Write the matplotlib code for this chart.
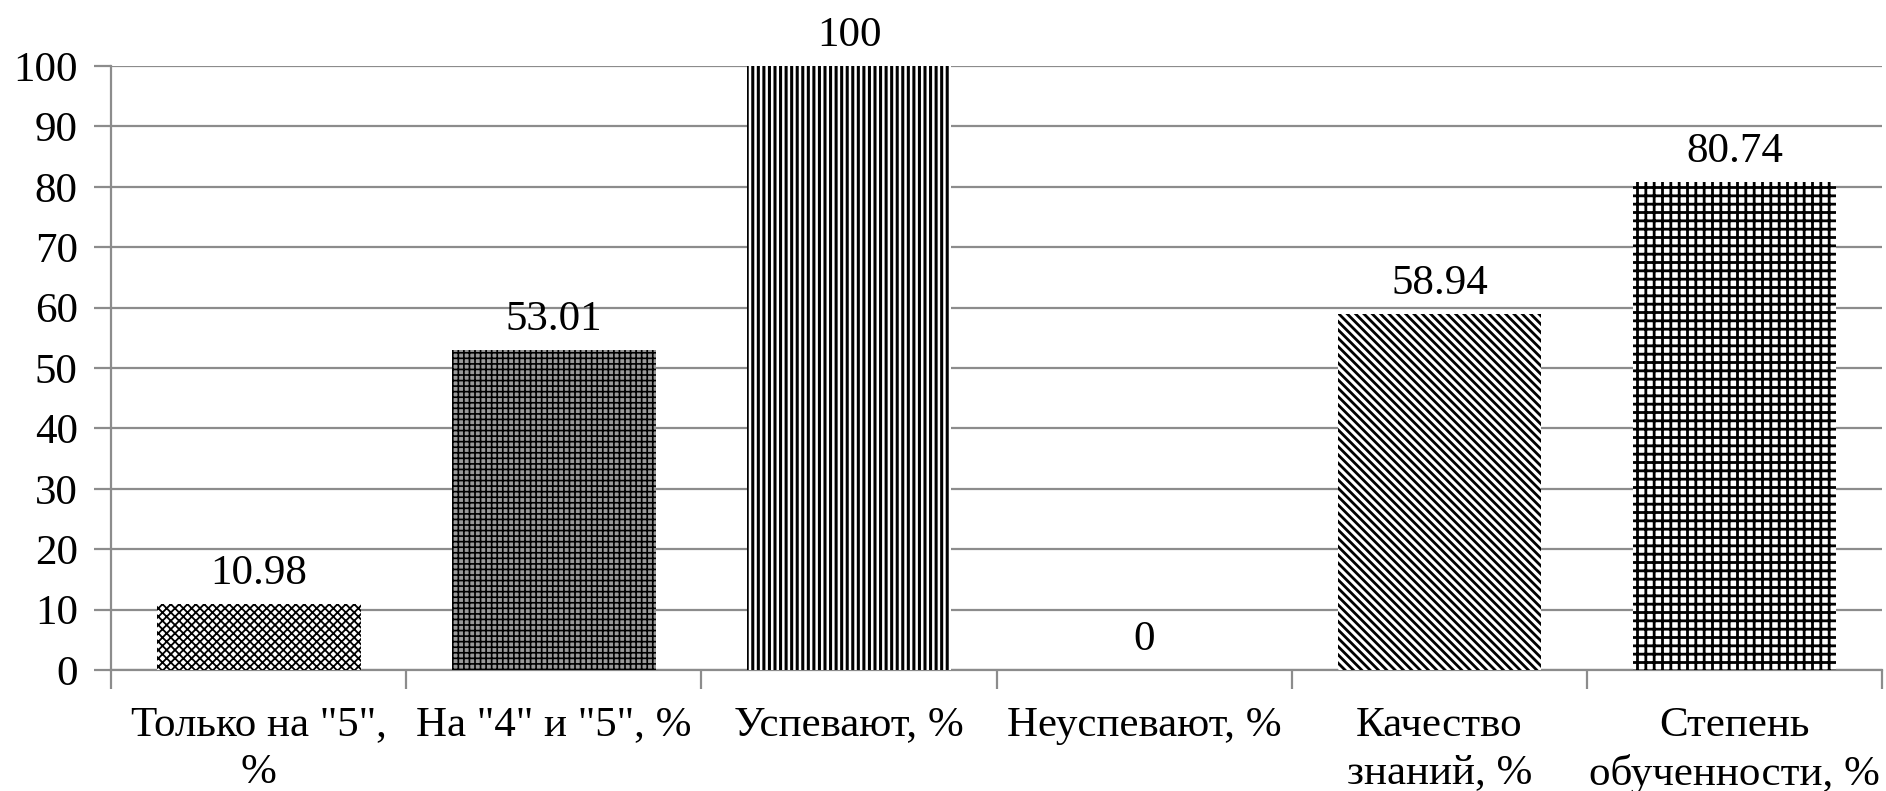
"""Bar chart of student performance indicators (hatched, monochrome)."""

import matplotlib

matplotlib.use("Agg")
import matplotlib.pyplot as plt
from matplotlib.ticker import FixedLocator, MultipleLocator

categories = [
    'Только на "5",\n%',
    'На "4" и "5", %',
    "Успевают, %",
    "Неуспевают, %",
    "Качество\nзнаний, %",
    "Степень\nобученности, %",
]
values = [10.98, 53.01, 100, 0, 58.94, 80.74]
value_labels = ["10.98", "53.01", "100", "0", "58.94", "80.74"]

hatches = ["xxxx", "+++", "|||", "", "\\\\\\\\", "++"]
faces = ["white", "#9a9a9a", "white", "white", "white", "white"]
hatch_widths = [1.3, 1.2, 2.2, 1.0, 2.0, 2.0]

plt.rcParams["font.family"] = ["Liberation Serif", "DejaVu Serif"]
plt.rcParams["font.size"] = 31

fig = plt.figure(figsize=(18.86, 7.91), dpi=100)
ax = fig.add_axes([0.0589, 0.153, 0.9391, 0.7636])

x = list(range(len(categories)))
for i, (v, h, fc, hw) in enumerate(zip(values, hatches, faces, hatch_widths)):
    with plt.rc_context({"hatch.linewidth": hw}):
        b = ax.bar(i, v, width=0.69, color=fc, edgecolor="black", linewidth=0, hatch=h, zorder=3)
    ax.bar_label(b, labels=[value_labels[i]], padding=8, fontsize=31)

ax.set_xlim(-0.5, len(categories) - 0.5)
ax.set_ylim(0, 100)
ax.yaxis.set_major_locator(MultipleLocator(10))
ax.grid(axis="y", color="#8c8c8c", linewidth=1.6, zorder=0)
ax.set_axisbelow(True)

ax.set_xticks(x)
ax.set_xticklabels(categories, linespacing=1.3, va="top")
ax.tick_params(axis="x", which="major", length=0, pad=26)
ax.xaxis.set_minor_locator(FixedLocator([i - 0.5 for i in range(len(categories) + 1)]))
ax.tick_params(axis="x", which="minor", length=14, width=1.6, color="#8c8c8c", direction="out")
ax.tick_params(axis="y", length=12, width=1.6, color="#8c8c8c", direction="out", pad=12)

for side in ["top", "right"]:
    ax.spines[side].set_visible(False)
for side in ["left", "bottom"]:
    ax.spines[side].set_color("#8c8c8c")
    ax.spines[side].set_linewidth(1.6)

fig.savefig("out.png", dpi=100)
